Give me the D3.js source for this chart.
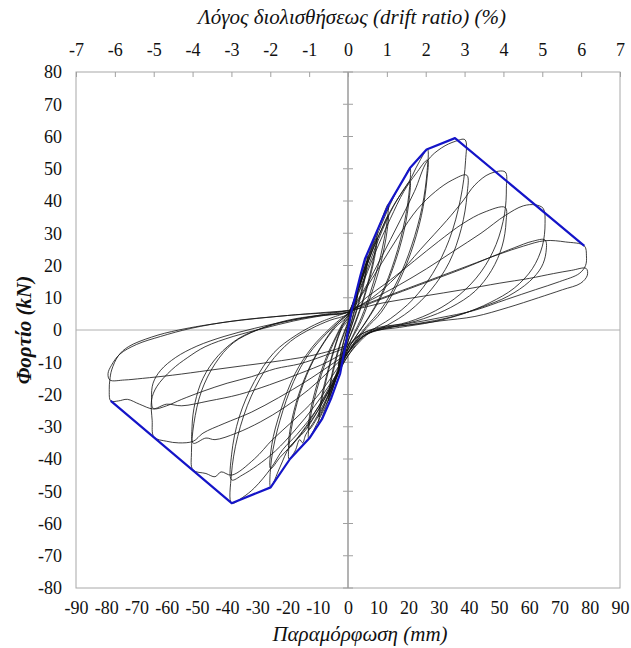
<!DOCTYPE html>
<html lang="el">
<head>
<meta charset="UTF-8">
<title>Hysteresis loops</title>
<script src="https://d3js.org/d3.v7.min.js"></script>
<style>
  body { margin: 0; background: #fff; }
  text { font-family: "Liberation Serif", "Times New Roman", serif; fill: #111; }
</style>
</head>
<body>
<div id="chart"></div>
<script>
// axis ticks
const xTicks = [-90, -80, -70, -60, -50, -40, -30, -20, -10, 0, 10, 20, 30, 40, 50, 60, 70, 80, 90];
const yTicks = [-80, -70, -60, -50, -40, -30, -20, -10, 0, 10, 20, 30, 40, 50, 60, 70, 80];
const driftTicks = [-7, -6, -5, -4, -3, -2, -1, 0, 1, 2, 3, 4, 5, 6, 7];

// envelope (blue), [mm, kN]
const envelope = [[-78.5, -22], [-38.5, -53.7], [-25.6, -48.8], [-19.2, -40], [-12.8, -33.6], [-8.5, -27.5],
  [-5.5, -21], [-2.6, -13.5], [-0.5, -3], [0, 0], [1.2, 6], [4, 16.5], [5.6, 22], [9.5, 30.5], [13.5, 39],
  [20.5, 50.2], [26, 56], [35.4, 59.5], [78.2, 26.1]];

// cyclic response, one array per amplitude (two cycles each), [mm, kN]
const loop03 = [[0, 1], [1.6, 6.5], [3.2, 12], [2.6, 8.5], [1.2, 3], [0, -1], [-1.6, -6.5], [-3.2, -12], [-2.6, -8.5], [-1.2, -3], [0, 1],
  [1.6, 6], [3.2, 11], [2.6, 7.5], [1.2, 2.5], [0, -1], [-1.6, -6], [-3.2, -11], [-2.6, -8], [-1.2, -2.5], [0, 1.5]];
const loop06 = [[0, 2], [2, 9], [4.2, 16.5], [6.4, 23], [5.9, 18.5], [4.4, 12], [2.4, 5], [0, -2], [-2, -8.5], [-4.2, -15.5], [-6.4, -22],
  [-5.9, -17.5], [-4.4, -11], [-2.4, -4], [0, 2],
  [2, 8.5], [4.2, 15.5], [6.4, 21.5], [5.9, 17.5], [4.4, 11], [2.4, 4.5], [0, -2], [-2, -8], [-4.2, -14.5], [-6.4, -20.5],
  [-5.9, -16.5], [-4.4, -10], [-2.4, -3.5], [0, 2.5]];
const loop10 = [[0, 3], [3, 12], [6.2, 21.5], [9.6, 30.5], [9.1, 25.5], [7.2, 17], [4.5, 8], [2, 1.5], [0, -3.5], [-3, -12.5], [-6.2, -21],
  [-9.6, -29], [-9.1, -24], [-7.2, -15.5], [-4.5, -6], [-2, 0.5], [0, 3],
  [3, 11.5], [6.2, 20], [9.6, 28.5], [9.1, 24], [7.2, 16], [4.5, 7.5], [2, 1], [0, -3.5], [-3, -12], [-6.2, -19.5], [-9.6, -27],
  [-9.1, -22.5], [-7.2, -14.5], [-4.5, -5.5], [-2, 1], [0, 3.5]];
const loop13 = [[0, 4], [4, 14.5], [8, 26], [11, 34], [13.3, 39], [12.9, 33.5], [10.8, 23], [7.5, 12], [4.5, 4], [2, -1], [0, -5],
  [-3, -13], [-6.5, -21.5], [-10, -28.5], [-13, -33.6], [-12.6, -28], [-10.3, -18.5], [-7.2, -9.5], [-4, -2.5], [-1.8, 1.5], [0, 4],
  [4, 14], [8, 24.5], [11, 31], [13.3, 35.5], [12.9, 30.5], [10.8, 20.5], [7.5, 10.5], [4.5, 3], [2, -1.5], [0, -5],
  [-3, -12.5], [-6.5, -20.5], [-10, -27], [-13, -31], [-12.6, -26], [-10.3, -17], [-7.2, -8.5], [-4, -2], [-1.8, 2], [0, 4.5]];
const loop20 = [[0, 4.5], [3, 12], [7, 23], [11, 32.5], [15, 41], [18.5, 47], [20.5, 50.2], [20.4, 44.5], [18.8, 34], [15.5, 22],
  [11, 11], [6.5, 3.5], [3, -1.5], [0, -6], [-3, -13], [-7, -21], [-11, -28], [-14, -32.5], [-15, -35], [-16, -34], [-17.5, -37.5],
  [-19.5, -40], [-19.2, -33.5], [-16.8, -22.5], [-12.5, -11.5], [-8, -4], [-4, 1], [0, 4.5],
  [3, 11.5], [7, 22], [11, 31], [15, 38.5], [18.5, 43.5], [20.5, 46], [20.3, 41], [18.6, 31], [15.2, 20], [10.8, 10], [6.3, 3],
  [3, -1.5], [0, -6], [-3, -12.5], [-7, -20], [-11, -26.5], [-14.5, -31], [-17, -34], [-19.5, -36.5],
  [-19.1, -30.5], [-16.5, -20.5], [-12.2, -10.5], [-7.8, -3.5], [-4, 1.5], [0, 5]];
const loop26 = [[0, 5], [4, 13], [9, 25.5], [14, 36.5], [18, 43], [20.5, 46.5], [23.2, 51.5], [26.3, 56],
  [26.2, 49.5], [24.5, 38], [21, 26], [16.5, 15.5], [11, 6.5], [6, 1], [3, -2.5], [0, -7],
  [-4, -14.5], [-9, -23.5], [-14, -31], [-17, -34], [-19.5, -36.5], [-22.5, -42.5], [-25.6, -48.8],
  [-25.3, -40], [-22.5, -28], [-18, -16], [-13, -7.5], [-7, -1], [-3, 2.5], [0, 5],
  [4, 12.5], [9, 24], [14, 34.5], [18.5, 43], [22.5, 48.5], [26.3, 52.7],
  [26.1, 46.5], [24.3, 35.5], [20.8, 24], [16.3, 14], [11, 5.5], [6, 0.5], [3, -3], [0, -7],
  [-4, -14], [-9, -22.5], [-14, -30], [-18.5, -35.5], [-22.5, -39.5], [-25.6, -43],
  [-25.2, -35.5], [-22.3, -25], [-17.5, -13.5], [-12, -5.5], [-6.5, 0], [-3, 3], [0, 5]];
const loop38 = [[0, 5], [5, 12], [11, 22.5], [17, 33.5], [22, 43], [26.3, 52.5], [31, 56.5], [35.5, 58.5], [38.7, 59],
  [38.9, 52.5], [37.2, 40.5], [33.5, 28], [28, 17.5], [21.5, 9.5], [14, 3.5], [8, 0], [4, -3], [0, -8],
  [-5, -16.5], [-11, -25.5], [-17, -32.5], [-21.5, -37], [-25.6, -43], [-31, -49], [-35, -52], [-38.5, -53.7],
  [-38.6, -45], [-36.5, -33], [-32, -20.5], [-26, -10.5], [-19, -3.5], [-12, 0.5], [-6, 3], [0, 5],
  [5, 11.5], [11, 20.5], [17, 29.5], [23, 37.5], [29, 43], [34.5, 46.5], [39.3, 48],
  [39.4, 42], [37.5, 31.5], [33.5, 21], [27.5, 12.5], [20.5, 6], [13, 1.5], [7, -1], [3.5, -4], [0, -8],
  [-5, -15.5], [-11, -23.5], [-17.5, -31], [-24, -37.5], [-30, -42], [-35, -45], [-38.5, -46.5],
  [-38.5, -38.5], [-36, -27], [-31, -16], [-24.5, -7], [-17, -1.5], [-9, 2.5], [0, 5.5]];
const loop52 = [[0, 5.5], [8, 10], [16, 16.5], [24, 25], [32.7, 34], [38, 40], [42, 45], [47, 48.5], [52, 49],
  [52.4, 44], [51.8, 36], [49, 26.5], [44, 18], [37, 11], [29, 6], [20, 2.5], [11, 0.5], [5, -2], [0, -7],
  [-5, -14], [-11, -21.5], [-18, -28], [-25, -34], [-31, -40], [-38.5, -45], [-42, -44], [-44, -45.5], [-47, -44.5], [-51.3, -43.4],
  [-51.8, -38], [-51, -29], [-48.5, -19], [-44, -10.5], [-38, -4], [-30, 0], [-20, 3], [-10, 4.5], [0, 5.5],
  [6, 10], [14, 15.5], [22, 21.5], [30, 27.5], [38, 33], [45, 36.5], [52, 38],
  [52.3, 33.5], [51, 26], [47.5, 18.5], [42, 12], [34, 7], [25, 3.5], [15, 1], [7, -1], [3, -3.5], [0, -7],
  [-6, -12.5], [-13, -18.5], [-21, -24], [-29, -28.5], [-37, -32], [-44, -34], [-47, -33.5], [-51.2, -35.1],
  [-51.6, -30], [-50.6, -22.5], [-48, -15], [-43, -8], [-36, -2.5], [-27, 1], [-16, 3.5], [0, 5.5]];
const loop65 = [[0, 5.5], [8, 9.5], [17, 14], [26, 19], [35, 24.5], [44, 30], [52, 35.5], [58, 38.5], [62, 38.8], [64.6, 37.7],
  [65.2, 33], [64.3, 26], [61, 19], [55, 13], [47, 8.5], [38, 5], [28, 2.5], [17, 0.8], [8, -0.5], [3.5, -3], [0, -7],
  [-6, -11], [-14, -16], [-23, -21], [-32, -25.5], [-41, -29], [-48, -32], [-51.2, -34.5], [-56, -35], [-60, -34.5], [-64.2, -33.2],
  [-64.8, -28], [-65, -21.7], [-63.3, -17.6], [-58.4, -12.4], [-53, -8.5], [-47.3, -5.2], [-38, -2], [-28, 0.5], [-18, 2.8], [-8, 4.5], [0, 5.5],
  [8, 8.5], [18, 12], [28, 15.5], [38, 19], [47, 22.5], [55, 25.5], [61, 27.5], [65.2, 27.9],
  [65.5, 24], [64, 19.5], [60, 15], [53, 10.5], [44, 7], [34, 4], [23, 2], [12, 0.5], [5, -1.5], [0, -6],
  [-7, -10], [-16, -13.5], [-26, -17], [-36, -20], [-46, -22], [-55, -23.5], [-60, -23], [-64.4, -24.3],
  [-65, -21], [-64.5, -16.5], [-62, -12.5], [-57, -8.5], [-50, -5], [-41, -2], [-31, 0.5], [-19, 3], [-8, 4.8], [0, 6]];
const loop78 = [[0, 6], [10, 9.5], [20, 13], [30, 16.5], [40, 20], [50, 23.5], [58, 26], [65.2, 27.7], [72, 27.3], [78.2, 26.1],
  [78.9, 23], [78.6, 20], [76.5, 17.5], [70, 15], [62, 12.5], [52.5, 9.5], [41.5, 6], [30.4, 3.8], [20, 2], [10, 0.8], [4, -1.5], [0, -5],
  [-8, -8], [-16, -10.5], [-24, -12], [-32, -14.5], [-40, -16.5], [-48, -19], [-55, -21.5], [-60, -23.5], [-64.4, -24.5],
  [-69, -23], [-73, -21.5], [-76, -22], [-78.5, -22],
  [-79, -18.5], [-78.8, -15.5], [-78.2, -12.4], [-76, -8], [-72.7, -5.2], [-65, -2.2], [-56, 0], [-40, 2.5], [-20, 4.5], [0, 6],
  [12, 8.5], [25, 10.5], [38, 12.5], [50, 14.5], [60, 16], [68, 17.5], [74, 18.5], [78.8, 19.1],
  [79.2, 17], [77, 14.5], [71, 12.5], [63, 10], [53, 7], [42, 4.2], [30.4, 2.8], [20, 1.5], [10, 0.5], [4, -1.5], [0, -4.5],
  [-10, -7.5], [-22, -9.5], [-34, -11], [-46, -12.5], [-58, -14], [-68, -15], [-74, -15.5], [-78.8, -15.5],
  [-79.4, -13.5], [-78.3, -11], [-75.5, -7.5], [-70, -4.5], [-62, -2], [-52, 0.5], [-38, 2.8], [-20, 4.5], [0, 6]];

const loops = [loop03, loop06, loop10, loop13, loop20, loop26, loop38, loop52, loop65, loop78];

const width = 631, height = 648;
const plot = { left: 76, right: 620, top: 72, bottom: 588 };
const serif = '"Liberation Serif", "Times New Roman", serif';

const x = d3.scaleLinear().domain([-90, 90]).range([plot.left, plot.right]);
const y = d3.scaleLinear().domain([-80, 80]).range([plot.bottom, plot.top]);
const xTop = d3.scaleLinear().domain([-7, 7]).range([plot.left, plot.right]);

// plain hyphen for negatives, like the original
const fmt = d => String(d);

const svg = d3.select('#chart').append('svg')
  .attr('width', width)
  .attr('height', height)
  .style('font-family', serif);

svg.append('rect').attr('width', width).attr('height', height).attr('fill', '#fff');

// plot frame
svg.append('rect')
  .attr('x', plot.left).attr('y', plot.top)
  .attr('width', plot.right - plot.left).attr('height', plot.bottom - plot.top)
  .attr('fill', 'none').attr('stroke', '#a8a8a8').attr('stroke-width', 1);

// zero lines
svg.append('line')
  .attr('x1', plot.left).attr('x2', plot.right)
  .attr('y1', y(0)).attr('y2', y(0))
  .attr('stroke', '#b0b0b0').attr('stroke-width', 1);
svg.append('line')
  .attr('x1', x(0)).attr('x2', x(0))
  .attr('y1', plot.top).attr('y2', plot.bottom)
  .attr('stroke', '#8a8a8a').attr('stroke-width', 1.3);

// cross ticks on the vertical zero line
svg.append('g').selectAll('line')
  .data(yTicks)
  .enter().append('line')
  .attr('x1', x(0) - 5).attr('x2', x(0) + 5)
  .attr('y1', d => y(d)).attr('y2', d => y(d))
  .attr('stroke', '#a0a0a0');

// top (drift) axis, ticks inside
const topAxis = svg.append('g')
  .attr('transform', `translate(0,${plot.top})`)
  .call(d3.axisTop(xTop).tickValues(driftTicks).tickFormat(fmt).tickSizeInner(-5).tickSizeOuter(0).tickPadding(16));
topAxis.select('.domain').remove();
topAxis.selectAll('line').attr('stroke', '#a0a0a0');

// bottom labels
const bottomAxis = svg.append('g')
  .attr('transform', `translate(0,${plot.bottom})`)
  .call(d3.axisBottom(x).tickValues(xTicks).tickFormat(fmt).tickSize(0).tickPadding(13));
bottomAxis.select('.domain').remove();

// left labels
const leftAxis = svg.append('g')
  .attr('transform', `translate(${plot.left},0)`)
  .call(d3.axisLeft(y).tickValues(yTicks).tickFormat(fmt).tickSize(0).tickPadding(14));
leftAxis.select('.domain').remove();

svg.selectAll('g').attr('font-family', serif);
svg.selectAll('.tick text')
  .style('font-family', serif)
  .attr('font-size', 18)
  .attr('fill', '#111');

// hysteresis loops
const line = d3.line()
  .x(d => x(d[0]))
  .y(d => y(d[1]))
  .curve(d3.curveCatmullRom.alpha(0.5));

svg.append('g').selectAll('path')
  .data(loops)
  .enter().append('path')
  .attr('d', line)
  .attr('fill', 'none')
  .attr('stroke', '#111')
  .attr('stroke-width', 1)
  .attr('stroke-opacity', 0.8);

// envelope
svg.append('path')
  .datum(envelope)
  .attr('d', d3.line().x(d => x(d[0])).y(d => y(d[1])))
  .attr('fill', 'none')
  .attr('stroke', '#1414c8')
  .attr('stroke-width', 2.2)
  .attr('stroke-linejoin', 'round');

// titles
svg.append('text')
  .attr('x', 352).attr('y', 24)
  .attr('text-anchor', 'middle')
  .attr('font-size', 21)
  .attr('font-style', 'italic')
  .style('font-family', serif)
  .text('Λόγος διολισθήσεως (drift ratio) (%)');

svg.append('text')
  .attr('x', 360).attr('y', 641)
  .attr('text-anchor', 'middle')
  .attr('font-size', 21)
  .attr('font-style', 'italic')
  .style('font-family', serif)
  .text('Παραμόρφωση (mm)');

svg.append('text')
  .attr('transform', `translate(31,${y(0)}) rotate(-90)`)
  .attr('text-anchor', 'middle')
  .attr('font-size', 21)
  .attr('font-style', 'italic')
  .attr('font-weight', 'bold')
  .style('font-family', serif)
  .text('Φορτίο (kN)');
</script>
</body>
</html>
